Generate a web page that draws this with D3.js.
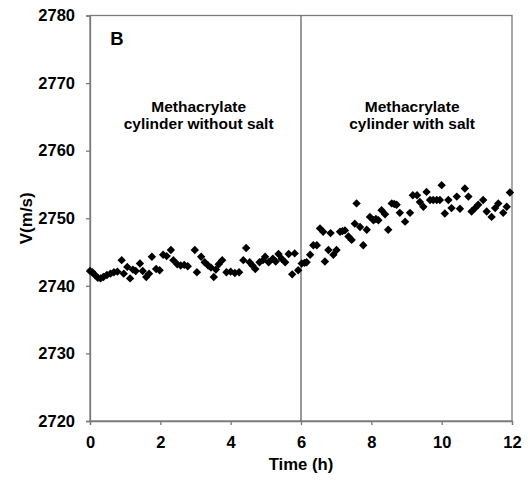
<!DOCTYPE html>
<html lang="en">
<head>
<meta charset="utf-8">
<title>V vs time</title>
<script src="https://d3js.org/d3.v7.min.js"></script>
<style>
  body { margin: 0; background: #fff; }
  text { font-family: "Liberation Sans", Arial, sans-serif; font-weight: bold; fill: #000; }
</style>
</head>
<body>
<script>
// data: time (h) and velocity (m/s)
const times = [
  0.00, 0.07, 0.14, 0.22, 0.30, 0.38, 0.48, 0.58, 0.68, 0.78,
  0.90, 0.96, 1.06, 1.14, 1.22, 1.30, 1.42, 1.50, 1.60, 1.68,
  1.76, 1.88, 1.98, 2.08, 2.18, 2.30, 2.37, 2.48, 2.58, 2.68,
  2.78, 2.98, 3.04, 3.16, 3.26, 3.36, 3.44, 3.52, 3.58, 3.66,
  3.76, 3.88, 4.00, 4.12, 4.24, 4.36, 4.44, 4.54, 4.62, 4.70,
  4.82, 4.92, 4.98, 5.08, 5.20, 5.28, 5.36, 5.45, 5.55, 5.65,
  5.75, 5.82, 5.92,
  6.02, 6.10, 6.16, 6.26, 6.35, 6.45, 6.54, 6.63, 6.68, 6.78,
  6.84, 6.92, 7.01, 7.11, 7.18, 7.25, 7.35, 7.44, 7.53, 7.58,
  7.68, 7.77, 7.87, 7.96, 8.06, 8.13, 8.20, 8.29, 8.39, 8.48,
  8.58, 8.65, 8.72, 8.81, 8.96, 9.10, 9.18, 9.30, 9.38, 9.48,
  9.57, 9.67, 9.76, 9.86, 9.95, 10.00, 10.09, 10.19, 10.28, 10.43,
  10.52, 10.66, 10.76, 10.85, 10.95, 11.04, 11.18, 11.28, 11.42, 11.52,
  11.61, 11.75, 11.85, 11.94
];
const velocity = [
  2742.2, 2742.0, 2741.6, 2741.2, 2741.1, 2741.3, 2741.6, 2741.8, 2742.0, 2742.1,
  2743.8, 2741.8, 2742.8, 2741.1, 2742.4, 2742.2, 2743.3, 2742.2, 2741.3, 2741.8,
  2744.3, 2742.5, 2742.3, 2744.6, 2744.4, 2745.3, 2743.8, 2743.2, 2743.0, 2743.1,
  2742.9, 2745.3, 2742.0, 2744.3, 2743.5, 2743.0, 2742.7, 2741.3, 2742.4, 2743.2,
  2743.8, 2742.0, 2742.1, 2741.9, 2742.0, 2743.8, 2745.6, 2743.5, 2743.0, 2742.5,
  2743.5, 2743.8, 2744.3, 2743.5, 2744.0, 2743.6, 2744.7, 2744.0, 2743.5, 2744.7,
  2741.7, 2744.8, 2742.3,
  2743.3, 2743.4, 2743.5, 2744.6, 2746.0, 2746.0, 2748.5, 2748.0, 2743.6, 2745.3,
  2747.8, 2744.6, 2745.3, 2748.0, 2748.1, 2748.2, 2747.3, 2746.8, 2749.2, 2752.2,
  2748.7, 2746.0, 2748.3, 2750.2, 2749.7, 2749.9, 2749.7, 2751.2, 2750.6, 2748.3,
  2752.2, 2752.1, 2752.0, 2750.8, 2749.5, 2750.8, 2753.4, 2753.4, 2752.4, 2751.7,
  2753.9, 2752.7, 2752.7, 2752.7, 2752.7, 2754.9, 2750.7, 2752.7, 2751.5, 2753.2,
  2751.4, 2754.4, 2753.2, 2751.0, 2751.5, 2752.0, 2752.7, 2751.0, 2750.2, 2751.5,
  2752.2, 2750.8, 2751.7, 2753.8
];
const xTicks = [0, 2, 4, 6, 8, 10, 12];
const yTicks = [2720, 2730, 2740, 2750, 2760, 2770, 2780];
const saltStart = 6;
const notes = [
  { t: 3.09, lines: ["Methacrylate", "cylinder without salt"] },
  { t: 9.16, lines: ["Methacrylate", "cylinder with salt"] }
];

const W = 530, H = 486;
const plotLeft = 90, plotRight = 512, plotTop = 15.5, plotBottom = 421;
const axisColor = "#7a7a7a";

const svg = d3.select("body").append("svg")
  .attr("width", W)
  .attr("height", H);

const x = d3.scaleLinear().domain([0, 12]).range([plotLeft, plotRight]);
const y = d3.scaleLinear().domain([2720, 2780]).range([plotBottom, plotTop]);

// frame
svg.append("rect")
  .attr("x", plotLeft).attr("y", plotTop)
  .attr("width", plotRight - plotLeft).attr("height", plotBottom - plotTop)
  .attr("fill", "none")
  .attr("stroke", axisColor)
  .attr("stroke-width", 1.3);

// axes
const xAxis = svg.append("g")
  .attr("transform", "translate(0," + plotBottom + ")")
  .call(d3.axisBottom(x).tickValues(xTicks).tickSize(4).tickPadding(11).tickFormat(d3.format("d")));
const yAxis = svg.append("g")
  .attr("transform", "translate(" + plotLeft + ",0)")
  .call(d3.axisLeft(y).tickValues(yTicks).tickSize(4).tickPadding(11).tickFormat(d3.format("d")));

[xAxis, yAxis].forEach(g => {
  g.select(".domain").attr("stroke", axisColor).attr("stroke-width", 1.3);
  g.selectAll(".tick line").attr("stroke", axisColor).attr("stroke-width", 1.3);
  g.selectAll(".tick text")
    .style("font-family", "'Liberation Sans', Arial, sans-serif")
    .style("font-weight", "bold")
    .style("font-size", "16.5px")
    .attr("fill", "#000");
});

// separator at 6 h
svg.append("line")
  .attr("x1", x(saltStart)).attr("x2", x(saltStart))
  .attr("y1", y(2780)).attr("y2", y(2720))
  .attr("stroke", "#555")
  .attr("stroke-width", 1.2);

// points
const pts = times.map((t, i) => ({ t: t, v: velocity[i] }));
const r = 4.2;
svg.append("g").selectAll("path")
  .data(pts)
  .enter()
  .append("path")
  .attr("d", d => {
    const px = x(d.t), py = y(d.v);
    return "M" + px + "," + (py - r) + "L" + (px + r) + "," + py +
           "L" + px + "," + (py + r) + "L" + (px - r) + "," + py + "Z";
  })
  .attr("fill", "#000");

// annotations
notes.forEach(n => {
  const txt = svg.append("text")
    .attr("x", x(n.t))
    .attr("y", 111.5)
    .attr("text-anchor", "middle")
    .style("font-size", "15.5px");
  n.lines.forEach((l, i) => {
    txt.append("tspan")
      .attr("x", x(n.t))
      .attr("dy", i === 0 ? 0 : 17)
      .text(l);
  });
});

// panel letter
svg.append("text")
  .attr("x", 117).attr("y", 45)
  .attr("text-anchor", "middle")
  .style("font-size", "18.5px")
  .text("B");

// axis titles
svg.append("text")
  .attr("x", x(6)).attr("y", 470)
  .attr("text-anchor", "middle")
  .style("font-size", "16.7px")
  .text("Time (h)");

svg.append("text")
  .attr("transform", "translate(31.5," + y(2750) + ")rotate(-90)")
  .attr("text-anchor", "middle")
  .style("font-size", "17px")
  .text("V(m/s)");
</script>
</body>
</html>
